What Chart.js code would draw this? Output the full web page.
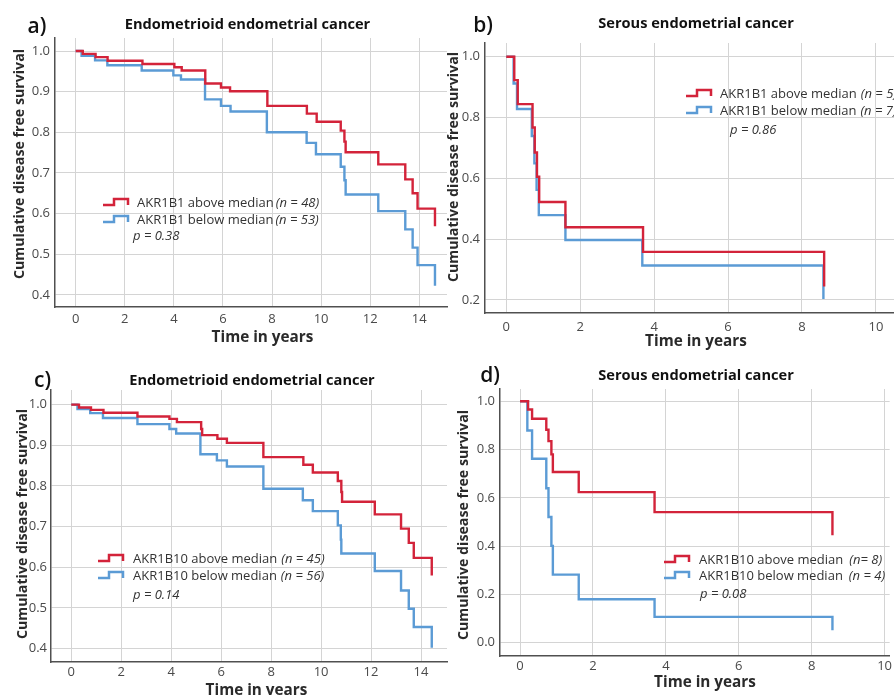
<!DOCTYPE html>
<html>
<head>
<meta charset="utf-8">
<script src="https://cdn.jsdelivr.net/npm/chart.js@4.4.1/dist/chart.umd.min.js"></script>
<style>
  body { margin: 0; width: 894px; height: 695px; overflow: hidden; background: #fff; position: relative; font-family: "Open Sans", sans-serif; }
  canvas { position: absolute; left: 0; top: 0; }
  .clip { position: absolute; overflow: hidden; }
  .txt { position: absolute; white-space: nowrap; transform: translate(-50%, -50%); color: #111; }
  .tag { font-weight: 600; font-size: 21px; }
  .title { font-weight: 700; font-size: 14.6px; }
  .xt { font-weight: 700; font-size: 15.3px; color: #2a2a2a; }
  .yt { font-weight: 700; font-size: 14.2px; color: #2a2a2a; transform: translate(-50%, -50%) rotate(-90deg); }
  .leg { position: absolute; white-space: nowrap; font-size: 13px; line-height: 16px; color: #333; }
  .icon { position: absolute; }
</style>
</head>
<body>
<canvas id="pa" width="894" height="695"></canvas>
<canvas id="pb" width="894" height="695"></canvas>
<canvas id="pc" width="894" height="695"></canvas>
<canvas id="pd" width="894" height="695"></canvas>
<div id="left" class="clip" style="left:0;top:0;width:447px;height:695px"></div>
<div id="right" class="clip" style="left:447px;top:0;width:447px;height:695px"></div>
<script>
// ======================================================
// Data
// ======================================================
const RED = "#d3233a";
const BLUE = "#5b9bd5";

// a) endometrioid, AKR1B1
const aAboveT = [0, 0.29, 0.81, 1.30, 2.72, 4.02, 4.32, 5.28, 5.92, 6.29, 7.81, 9.42, 9.82, 10.80, 10.95, 11.00, 12.33, 13.43, 13.73, 13.93, 14.64];
const aAboveS = [1, 0.993, 0.985, 0.976, 0.968, 0.960, 0.952, 0.920, 0.910, 0.901, 0.865, 0.846, 0.826, 0.804, 0.777, 0.751, 0.721, 0.684, 0.650, 0.612, 0.569];
const aBelowT = [0, 0.24, 0.79, 1.29, 2.69, 3.98, 4.29, 5.27, 5.92, 6.31, 7.79, 9.41, 9.79, 10.80, 10.95, 11.00, 12.33, 13.43, 13.73, 13.93, 14.64];
const aBelowS = [1, 0.988, 0.977, 0.965, 0.952, 0.940, 0.930, 0.881, 0.865, 0.851, 0.800, 0.774, 0.746, 0.715, 0.682, 0.647, 0.606, 0.561, 0.516, 0.473, 0.422];

// b) serous, AKR1B1
const bAboveT = [0, 0.216, 0.31, 0.71, 0.77, 0.83, 0.89, 1.60, 3.70, 8.60];
const bAboveS = [1, 0.923, 0.844, 0.767, 0.685, 0.605, 0.522, 0.439, 0.358, 0.244];
const bBelowT = [0, 0.198, 0.29, 0.69, 0.76, 0.82, 0.88, 1.60, 3.68, 8.58];
const bBelowS = [1, 0.912, 0.828, 0.739, 0.649, 0.562, 0.479, 0.397, 0.313, 0.203];

// c) endometrioid, AKR1B10
const cAboveT = [0, 0.31, 0.79, 1.29, 2.65, 3.93, 4.23, 5.20, 5.24, 5.85, 6.23, 7.69, 9.29, 9.67, 10.67, 10.81, 10.84, 12.15, 13.20, 13.51, 13.71, 14.43];
const cAboveS = [1, 0.993, 0.987, 0.980, 0.971, 0.965, 0.957, 0.940, 0.925, 0.916, 0.906, 0.871, 0.852, 0.833, 0.812, 0.785, 0.761, 0.730, 0.695, 0.660, 0.623, 0.580];
const cBelowT = [0, 0.25, 0.76, 1.27, 2.65, 3.93, 4.20, 5.17, 5.83, 6.23, 7.69, 9.27, 9.67, 10.67, 10.79, 10.81, 12.15, 13.20, 13.51, 13.71, 14.43];
const cBelowS = [1, 0.989, 0.979, 0.967, 0.952, 0.940, 0.929, 0.878, 0.863, 0.848, 0.793, 0.765, 0.738, 0.703, 0.668, 0.634, 0.591, 0.543, 0.498, 0.453, 0.402];

// d) serous, AKR1B10
const dAboveT = [0, 0.22, 0.33, 0.72, 0.78, 0.86, 0.90, 1.61, 3.69, 8.57];
const dAboveS = [1, 0.966, 0.928, 0.882, 0.835, 0.780, 0.707, 0.624, 0.541, 0.445];
const dBelowT = [0, 0.20, 0.33, 0.72, 0.78, 0.86, 0.90, 1.61, 3.69, 8.57];
const dBelowS = [1, 0.879, 0.762, 0.640, 0.521, 0.401, 0.282, 0.180, 0.107, 0.052];

// tick labels
const endoXTicks = [0, 2, 4, 6, 8, 10, 12, 14];
const endoYTicks = [0.4, 0.5, 0.6, 0.7, 0.8, 0.9, 1.0];
const serousXTicks = [0, 2, 4, 6, 8, 10];
const serousBYTicks = [0.2, 0.4, 0.6, 0.8, 1.0];
const serousDYTicks = [0.0, 0.2, 0.4, 0.6, 0.8, 1.0];

// legend texts
const aNames = ["AKR1B1 above median", "AKR1B1 below median"];
const aCounts = ["(n = 48)", "(n = 53)"];
const aP = "p = 0.38";
const bNames = ["AKR1B1 above median", "AKR1B1 below median"];
const bCounts = ["(n = 5)", "(n = 7)"];
const bP = "p = 0.86";
const cNames = ["AKR1B10 above median", "AKR1B10 below median"];
const cCounts = ["(n = 45)", "(n = 56)"];
const cP = "p = 0.14";
const dNames = ["AKR1B10 above median", "AKR1B10 below median"];
const dCounts = ["(n= 8)", "(n = 4)"];
const dP = "p = 0.08";

const endoTitle = "Endometrioid endometrial cancer";
const serousTitle = "Serous endometrial cancer";
const yTitle = "Cumulative disease free survival";
const xTitle = "Time in years";

// ======================================================
// Layout of the four panels (pixels in the 894x695 page)
// ======================================================
const W = 894, H = 695, Y_AXIS_W = 40, X_AXIS_H = 30;

const panels = [
  { id: "pa", box: { l: 55, t: 38, r: 447, b: 307 }, x: [-0.843, 15.13], y: [0.370, 1.032],
    xTicks: endoXTicks, yTicks: endoYTicks, xPad: 4, yPad: 5,
    above: [aAboveT, aAboveS], below: [aBelowT, aBelowS] },
  { id: "pb", box: { l: 485, t: 43, r: 894, b: 313 }, x: [-0.576, 10.49], y: [0.157, 1.045],
    xTicks: serousXTicks, yTicks: serousBYTicks, xPad: 6, yPad: 5,
    above: [bAboveT, bAboveS], below: [bBelowT, bBelowS] },
  { id: "pc", box: { l: 51, t: 390, r: 447, b: 662 }, x: [-0.81, 15.04], y: [0.367, 1.036],
    xTicks: endoXTicks, yTicks: endoYTicks, xPad: 2, yPad: 4,
    above: [cAboveT, cAboveS], below: [cBelowT, cBelowS] },
  { id: "pd", box: { l: 500, t: 389, r: 894, b: 656 }, x: [-0.55, 10.14], y: [-0.055, 1.051],
    xTicks: serousXTicks, yTicks: serousDYTicks, xPad: 2, yPad: 5,
    above: [dAboveT, dAboveS], below: [dBelowT, dBelowS] },
];

function toPoints(ts, ss) {
  return ts.map((t, i) => ({ x: t, y: ss[i] }));
}

function buildPanel(p) {
  const tickFont = { family: "Open Sans", size: 13 };
  const grid = { color: "#d4d4d4", lineWidth: 1, drawTicks: false };
  const border = { display: true, color: "#505050", width: 1.5 };
  new Chart(document.getElementById(p.id), {
    type: "line",
    data: {
      datasets: [
        { data: toPoints(p.above[0], p.above[1]), borderColor: RED, borderWidth: 2.4, stepped: true, pointRadius: 0, fill: false },
        { data: toPoints(p.below[0], p.below[1]), borderColor: BLUE, borderWidth: 2.4, stepped: true, pointRadius: 0, fill: false }
      ]
    },
    options: {
      responsive: false,
      animation: false,
      events: [],
      layout: { padding: { left: p.box.l - Y_AXIS_W, top: p.box.t, right: W - p.box.r, bottom: H - p.box.b - X_AXIS_H } },
      plugins: { legend: { display: false }, tooltip: { enabled: false } },
      scales: {
        x: {
          type: "linear", bounds: "data", min: p.x[0], max: p.x[1],
          afterBuildTicks: s => { s.ticks = p.xTicks.map(v => ({ value: v })); },
          afterFit: s => { s.height = X_AXIS_H; },
          ticks: { autoSkip: false, maxRotation: 0, padding: p.xPad, color: "#4a4a4a", font: tickFont, callback: v => String(v) },
          grid, border
        },
        y: {
          type: "linear", bounds: "data", min: p.y[0], max: p.y[1],
          afterBuildTicks: s => { s.ticks = p.yTicks.map(v => ({ value: v })); },
          afterFit: s => { s.width = Y_AXIS_W; },
          ticks: { padding: p.yPad, color: "#4a4a4a", font: tickFont, callback: v => v.toFixed(1) },
          grid, border
        }
      }
    }
  });
}
panels.forEach(buildPanel);

// ======================================================
// Text: panel tags, titles, axis titles, legends
// ======================================================
const leftBox = document.getElementById("left");
const rightBox = document.getElementById("right");

function addText(parent, ox, cls, text, cx, cy) {
  const d = document.createElement("div");
  d.className = "txt " + cls;
  d.textContent = text;
  d.style.left = (cx - ox) + "px";
  d.style.top = cy + "px";
  parent.appendChild(d);
}

function stepIcon(color) {
  return `<svg class="icon" width="28" height="10" viewBox="0 0 28 10"><path d="M0 8 H11 V2 H25 V8" fill="none" stroke="${color}" stroke-width="2.5"/></svg>`;
}

function addLegend(parent, ox, iconX, textX, rows, names, counts, gap, pX, pY, pText) {
  [RED, BLUE].forEach((c, i) => {
    const ic = document.createElement("div");
    ic.className = "leg";
    ic.style.left = (iconX - ox) + "px";
    ic.style.top = (rows[i] - 5) + "px";
    ic.innerHTML = stepIcon(c);
    parent.appendChild(ic);
    const t = document.createElement("div");
    t.className = "leg";
    t.style.left = (textX - ox) + "px";
    t.style.top = (rows[i] - 8) + "px";
    t.innerHTML = `${names[i]}<i style="margin-left:${gap}px">${counts[i]}</i>`;
    parent.appendChild(t);
  });
  const pd = document.createElement("div");
  pd.className = "leg";
  pd.style.left = (pX - ox) + "px";
  pd.style.top = (pY - 8) + "px";
  pd.innerHTML = `<i>${pText}</i>`;
  parent.appendChild(pd);
}

// a)
addText(leftBox, 0, "tag", "a)", 37, 25);
addText(leftBox, 0, "title", endoTitle, 247.5, 23);
addText(leftBox, 0, "yt", yTitle, 17.5, 164);
addText(leftBox, 0, "xt", xTitle, 262.5, 336);
addLegend(leftBox, 0, 103, 137, [202, 219], aNames, aCounts, 2, 133, 235, aP);

// b)
addText(rightBox, 447, "tag", "b)", 483, 24);
addText(rightBox, 447, "title", serousTitle, 696, 22);
addText(rightBox, 447, "yt", yTitle, 452, 167);
addText(rightBox, 447, "xt", xTitle, 696, 340);
addLegend(rightBox, 447, 686, 720, [93, 110], bNames, bCounts, 4, 730, 129, bP);

// c)
addText(leftBox, 0, "tag", "c)", 42.5, 379);
addText(leftBox, 0, "title", endoTitle, 252, 379);
addText(leftBox, 0, "yt", yTitle, 21, 524);
addText(leftBox, 0, "xt", xTitle, 256.5, 689);
addLegend(leftBox, 0, 98, 133, [558, 575], cNames, cCounts, 4, 133, 594, cP);

// d)
addText(rightBox, 447, "tag", "d)", 490, 374);
addText(rightBox, 447, "title", serousTitle, 696, 374);
addText(rightBox, 447, "yt", yTitle, 462, 525);
addText(rightBox, 447, "xt", xTitle, 705, 681);
addLegend(rightBox, 447, 664, 699, [559, 575], dNames, dCounts, 6, 700, 593, dP);
</script>
</body>
</html>
